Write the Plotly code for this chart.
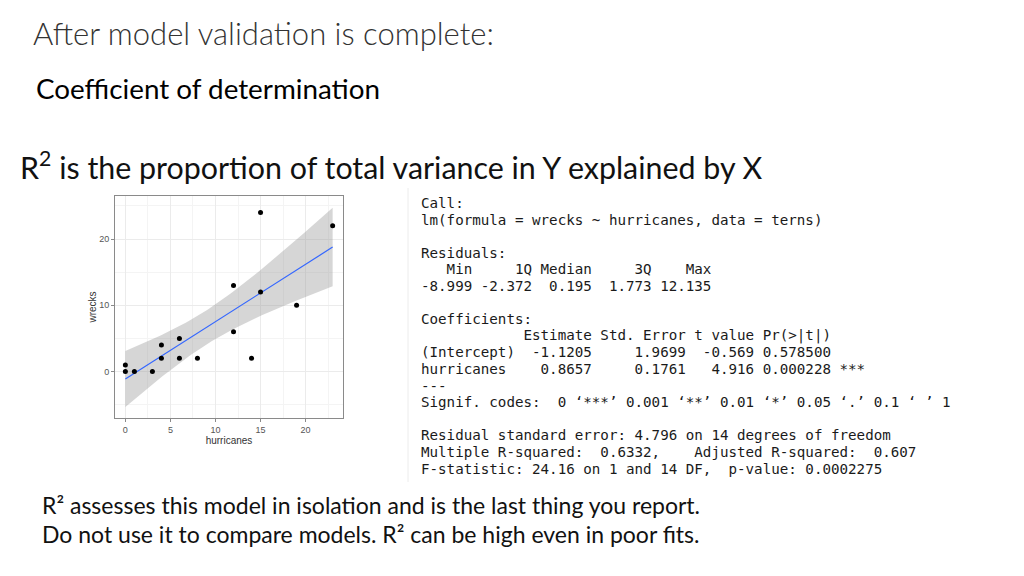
import numpy as np
import plotly.graph_objects as go

# ---- data (terns) ----
hurricanes = [0, 0, 1, 3, 4, 4, 6, 6, 8, 12, 12, 14, 15, 15, 19, 23]
wrecks = [0, 1, 0, 0, 2, 4, 2, 5, 2, 13, 6, 2, 24, 12, 10, 22]
x_ticks = [0, 5, 10, 15, 20]
y_ticks = [0, 10, 20]

r_output = [
    "Call:",
    "lm(formula = wrecks ~ hurricanes, data = terns)",
    "",
    "Residuals:",
    "   Min     1Q Median     3Q    Max ",
    "-8.999 -2.372  0.195  1.773 12.135 ",
    "",
    "Coefficients:",
    "            Estimate Std. Error t value Pr(>|t|)    ",
    "(Intercept)  -1.1205     1.9699  -0.569 0.578500    ",
    "hurricanes    0.8657     0.1761   4.916 0.000228 ***",
    "---",
    "Signif. codes:  0 \u2018***\u2019 0.001 \u2018**\u2019 0.01 \u2018*\u2019 0.05 \u2018.\u2019 0.1 \u2018 \u2019 1",
    "",
    "Residual standard error: 4.796 on 14 degrees of freedom",
    "Multiple R-squared:  0.6332,\tAdjusted R-squared:  0.607 ",
    "F-statistic: 24.16 on 1 and 14 DF,  p-value: 0.0002275",
]

# ---- linear fit + 95% confidence band (as geom_smooth(method='lm')) ----
x = np.array(hurricanes, dtype=float)
y = np.array(wrecks, dtype=float)
n = len(x)
b1, b0 = np.polyfit(x, y, 1)
resid = y - (b0 + b1 * x)
s = np.sqrt(np.sum(resid ** 2) / (n - 2))
sxx = np.sum((x - x.mean()) ** 2)
t_crit = 2.144787  # qt(0.975, 14)
xs = np.linspace(x.min(), x.max(), 80)
fit = b0 + b1 * xs
se = s * np.sqrt(1.0 / n + (xs - x.mean()) ** 2 / sxx)
lo = fit - t_crit * se
hi = fit + t_crit * se

OFF = 8  # page body margin
W, H = 1024 - OFF, 576 - OFF


def px(v):
    return (v - OFF) / W


def py(v):
    return 1 - (v - OFF) / H


fig = go.Figure()
fig.add_trace(go.Scatter(x=xs, y=lo, mode="lines", line=dict(width=0), hoverinfo="skip", showlegend=False))
fig.add_trace(go.Scatter(x=xs, y=hi, mode="lines", line=dict(width=0), fill="tonexty",
                         fillcolor="rgba(153,153,153,0.4)", hoverinfo="skip", showlegend=False))
fig.add_trace(go.Scatter(x=xs, y=fit, mode="lines", line=dict(color="#3366FF", width=1.2), showlegend=False))
fig.add_trace(go.Scatter(x=hurricanes, y=wrecks, mode="markers",
                         marker=dict(color="black", size=5), showlegend=False))

tickfont = dict(family="Liberation Sans", size=9, color="#555555")
fig.update_layout(
    width=W, height=H,
    margin=dict(l=0, r=0, t=0, b=0),
    paper_bgcolor="white", plot_bgcolor="white",
    xaxis=dict(domain=[px(115), px(343)], range=[-1.15, 24.15], tickvals=x_ticks,
               showgrid=True, gridcolor="#ebebeb", gridwidth=1,
               minor=dict(tickvals=[2.5, 7.5, 12.5, 17.5, 22.5], showgrid=True, gridcolor="#f4f4f4", gridwidth=0.6),
               zeroline=False, showline=True, linecolor="#8a8a8a", linewidth=1, mirror=True,
               ticks="outside", ticklen=3, tickcolor="#8a8a8a", tickfont=tickfont,
               title=dict(text="hurricanes", font=dict(family="Liberation Sans", size=10, color="#333"), standoff=1)),
    yaxis=dict(domain=[py(418), py(196)], range=[-7.0, 26.5], tickvals=y_ticks,
               showgrid=True, gridcolor="#ebebeb", gridwidth=1,
               minor=dict(tickvals=[-5, 5, 15, 25], showgrid=True, gridcolor="#f4f4f4", gridwidth=0.6),
               zeroline=False, showline=True, linecolor="#8a8a8a", linewidth=1, mirror=True,
               ticks="outside", ticklen=3, tickcolor="#8a8a8a", tickfont=tickfont,
               title=dict(text="wrecks", font=dict(family="Liberation Sans", size=10, color="#333"), standoff=0)),
)

ann = []
title_font = "Lato"
ann.append(dict(x=px(31), y=py(33), text="After model validation is complete:",
                font=dict(family=title_font, size=31, color="#333333", weight=300)))
ann.append(dict(x=px(34), y=py(89), text="Coefficient of determination",
                font=dict(family=title_font, size=27.8, color="#000000")))
ann.append(dict(x=px(18), y=py(165), text="R<sup>2</sup> is the proportion of total variance in Y explained by X",
                font=dict(family=title_font, size=30.4, color="#111111")))
ann.append(dict(x=px(40), y=py(505), text="R\u00b2 assesses this model in isolation and is the last thing you report.",
                font=dict(family=title_font, size=23, color="#111111")))
ann.append(dict(x=px(40), y=py(534), text="Do not use it to compare models. R\u00b2 can be high even in poor fits.",
                font=dict(family=title_font, size=23, color="#111111")))

for k, line in enumerate(r_output):
    if not line:
        continue
    txt = line.replace("\t", "    ").rstrip().replace(" ", "\u00a0").replace(">", "&gt;")
    ann.append(dict(x=px(419), y=py(203 + 16.6 * k), text=txt,
                    font=dict(family="DejaVu Sans Mono", size=14.2, color="#1a1a1a")))

for a in ann:
    a.update(xref="paper", yref="paper", xanchor="left", yanchor="middle", showarrow=False)
fig.update_layout(annotations=ann)

fig.add_shape(type="line", xref="paper", yref="paper", x0=px(408), x1=px(408), y0=py(188), y1=py(482),
              line=dict(color="#ececec", width=1))

fig.write_html("out.html")
